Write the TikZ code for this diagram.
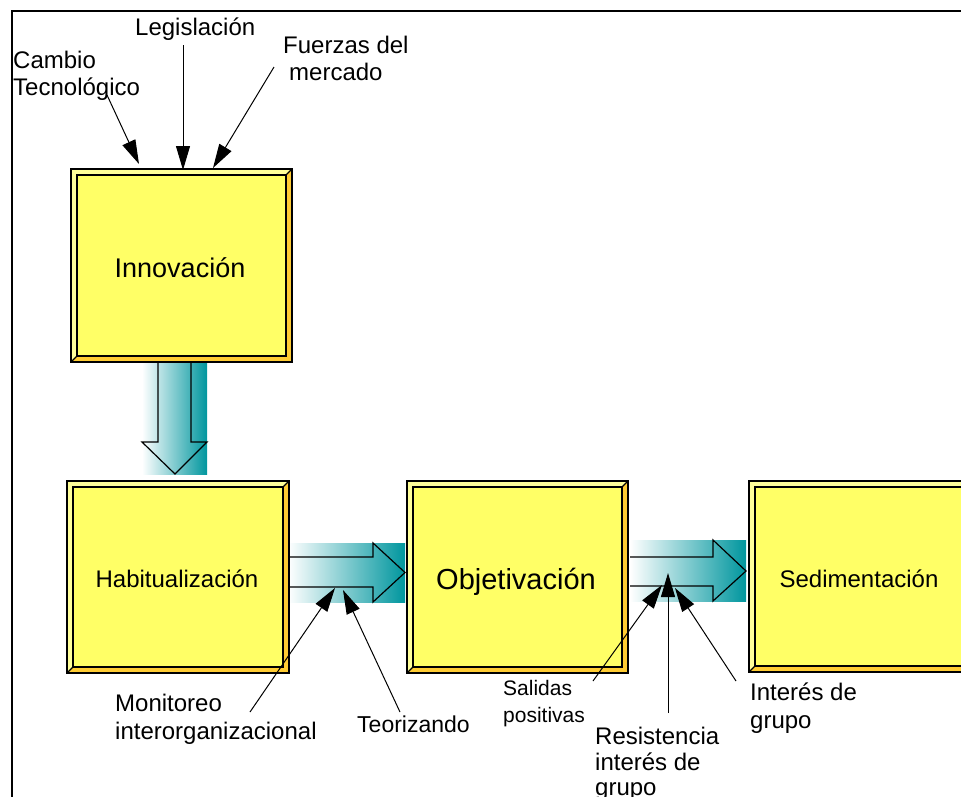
\documentclass[tikz,border=0pt]{standalone}
\usepackage{fontspec}
\setmainfont{Liberation Sans}
\usetikzlibrary{arrows.meta,calc}
\definecolor{boxyel}{RGB}{255,255,102}
\definecolor{bevlight}{RGB}{255,255,153}
\definecolor{bevdark}{RGB}{255,204,51}
\definecolor{tealc}{RGB}{0,150,158}
\newcommand\bevelbox[1]{%
  \fill[bevlight] (#1.north west) rectangle (#1.south east);
  \fill[bevdark] (#1.north east) -- (#1.south east) -- (#1.south west) -- ($(#1.south west)+(6,-6)$) -- ($(#1.south east)+(-6,-6)$) -- ($(#1.north east)+(-6,6)$) -- cycle;
  \draw[fill=boxyel, line width=1.3pt] ($(#1.north west)+(6,6)$) rectangle ($(#1.south east)+(-6,-6)$);
  \draw[line width=1.2pt] (#1.north east) -- ($(#1.north east)+(-6,6)$) (#1.south west) -- ($(#1.south west)+(6,-6)$);
  \draw[line width=1.6pt] (#1.north west) rectangle (#1.south east);
}
\tikzset{
  outerbox/.style={rectangle, inner sep=0pt, outer sep=0pt},
  boxtext/.style={inner sep=0pt, anchor=base, font=\fontsize{24}{29}\selectfont},
  lbl/.style={inner sep=0pt, anchor=base west, font=\fontsize{24}{29}\selectfont},
  thinarrow/.style={line width=1pt, -{Triangle[length=24pt,width=14pt]}},
  fatline/.style={line width=1.2pt, line join=miter},
}
\begin{document}
\begin{tikzpicture}[x=1pt, y=-1pt]
\useasboundingbox (0,0) rectangle (961,796);
\clip (0,0) rectangle (961,796);
% frame
\draw[line width=2pt] (12,11) rectangle (1000,830);

% fat arrows (behind boxes)
\shade[left color=white, right color=tealc] (142,359) rectangle (207,474);
\draw[fatline] (158,359) -- (158,442) -- (142,442) -- (175,474) -- (207,442) -- (191,442) -- (191,359);
\shade[left color=white, right color=tealc] (288,543) rectangle (405,602);
\draw[fatline] (288,557) -- (373,557) -- (373,543) -- (405,572.5) -- (373,602) -- (373,587) -- (288,587);
\shade[left color=white, right color=tealc] (630,540) rectangle (746,601);
\draw[fatline] (630,557) -- (713,557) -- (713,540) -- (746,571) -- (713,601) -- (713,586) -- (630,586);

% boxes
\node[outerbox, minimum width=221pt, minimum height=193pt] (inno) at (181.5,265.5) {};
\bevelbox{inno}
\node[outerbox, minimum width=222pt, minimum height=192pt] (habit) at (178,577) {};
\bevelbox{habit}
\node[outerbox, minimum width=221pt, minimum height=192pt] (objet) at (517.5,577) {};
\bevelbox{objet}
\node[outerbox, minimum width=221pt, minimum height=191pt] (sedim) at (859.5,576.5) {};
\bevelbox{sedim}

\node[boxtext, font=\fontsize{27}{32}\selectfont] (innoT) at (180,277) {Innovación};
\node[boxtext] (habitT) at (177,587) {Habitualización};
\node[boxtext, font=\fontsize{29}{34}\selectfont] (objetT) at (516,589) {Objetivación};
\node[boxtext] (sedimT) at (859,587) {Sedimentación};

% labels
\node[lbl] (cambio) at (13,68) {Cambio};
\node[lbl] (tecno) at (13,95) {Tecnológico};
\node[lbl] (legis) at (135,35) {Legislación};
\node[lbl] (fuerzas) at (283,53) {Fuerzas del};
\node[lbl] (mercado) at (289,80) {mercado};
\node[lbl] (monit) at (115,711) {Monitoreo};
\node[lbl] (interorg) at (115,739) {interorganizacional};
\node[lbl, font=\fontsize{23}{28}\selectfont] (teor) at (357,732) {Teorizando};
\node[lbl, font=\fontsize{21}{26}\selectfont] (salidas) at (503,695) {Salidas};
\node[lbl, font=\fontsize{21}{26}\selectfont] (positivas) at (503,722) {positivas};
\node[lbl] (resist) at (595,744) {Resistencia};
\node[lbl] (interesA) at (595,770) {interés de};
\node[lbl] (grupoA) at (595,795) {grupo};
\node[lbl] (interesB) at (750,700) {Interés de};
\node[lbl] (grupoB) at (750,728) {grupo};

% connector end points
\coordinate (cS) at (107,95);  \coordinate (cE) at (139,164);
\coordinate (lS) at (183,45);  \coordinate (lE) at (183,170);
\coordinate (fS) at (274,67);  \coordinate (fE) at (213,168);
\coordinate (mS) at (250,712); \coordinate (mE) at (335,588);
\coordinate (tS) at (400,712); \coordinate (tE) at (343,590);
\coordinate (sS) at (593,681); \coordinate (sE) at (662,585);
\coordinate (rS) at (668,713); \coordinate (rE) at (668,573);
\coordinate (iS) at (736,681); \coordinate (iE) at (675,588);

\draw[thinarrow] (cS) -- (cE);
\draw[thinarrow] (lS) -- (lE);
\draw[thinarrow] (fS) -- (fE);
\draw[thinarrow] (mS) -- (mE);
\draw[thinarrow] (tS) -- (tE);
\draw[thinarrow] (sS) -- (sE);
\draw[thinarrow] (rS) -- (rE);
\draw[thinarrow] (iS) -- (iE);
\end{tikzpicture}
\end{document}
